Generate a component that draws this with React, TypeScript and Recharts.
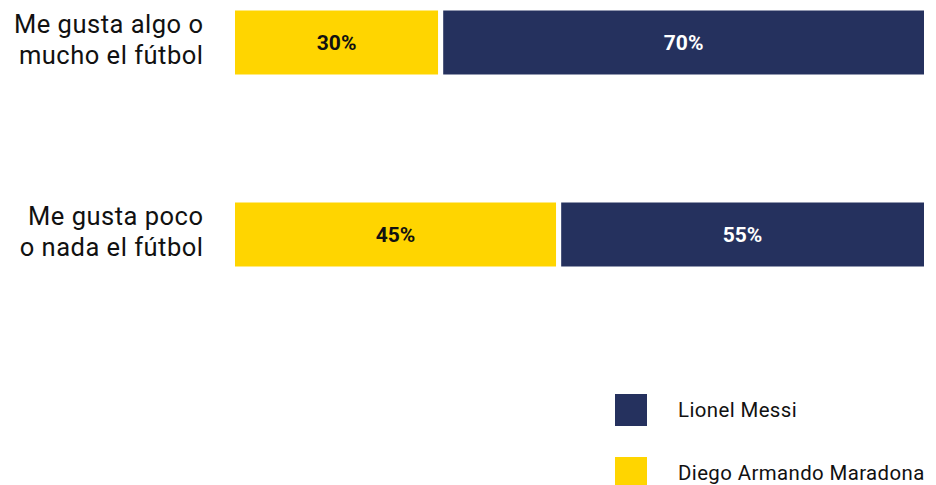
import { Bar, BarChart, LabelList, XAxis, YAxis } from "recharts";

const categories = ["Me gusta algo o mucho el fútbol", "Me gusta poco o nada el fútbol"];
const tickLines = [
  ["Me gusta algo o", "mucho el fútbol"],
  ["Me gusta poco", "o nada el fútbol"],
];
const maradona = [30, 47];
const messi = [70, 53];
const maradonaLabels = ["30%", "45%"];
const messiLabels = ["70%", "55%"];

const YELLOW = "#FFD500";
const NAVY = "#25315E";
const FONT = "Roboto, 'Noto Sans', sans-serif";

const legendItems = [
  { name: "Lionel Messi", color: NAVY },
  { name: "Diego Armando Maradona", color: YELLOW },
];

const data = categories.map((name, i) => ({
  name,
  maradona: maradona[i],
  messi: messi[i],
}));

function CategoryTick(props: any) {
  const { x, y, index } = props;
  const lines = tickLines[index] || [];
  const tx = x - 21;
  return (
    <text
      x={tx}
      y={y - 9}
      textAnchor="end"
      fontFamily={FONT}
      fontSize={25.5}
      letterSpacing={0.5}
      fill="#111"
    >
      {lines.map((line, i) => (
        <tspan key={i} x={tx} dy={i === 0 ? 0 : 31}>
          {line}
        </tspan>
      ))}
    </text>
  );
}

function makeLabel(labels: string[], color: string) {
  return (props: any) => {
    const { x, y, width, height, index } = props;
    return (
      <text
        x={x + width / 2}
        y={y + height / 2}
        textAnchor="middle"
        dominantBaseline="central"
        fontFamily={FONT}
        fontWeight={700}
        fontSize={21}
        fill={color}
      >
        {labels[index]}
      </text>
    );
  };
}

function LegendBox() {
  return (
    <div
      style={{
        position: "absolute",
        left: 615,
        top: 394,
        fontFamily: FONT,
      }}
    >
      {legendItems.map((item, i) => (
        <div
          key={item.name}
          style={{
            display: "flex",
            alignItems: "center",
            height: 32,
            marginBottom: i === 0 ? 31 : 0,
          }}
        >
          <span
            style={{
              width: 32,
              height: 32,
              background: item.color,
              display: "inline-block",
              marginRight: 31,
              flexShrink: 0,
            }}
          />
          <span
            style={{
              fontSize: 20.4,
              letterSpacing: 0.4,
              color: "#111",
              whiteSpace: "nowrap",
            }}
          >
            {item.name}
          </span>
        </div>
      ))}
    </div>
  );
}

export default function App() {
  return (
    <div
      style={{
        position: "absolute",
        left: 0,
        top: 0,
        width: 936,
        height: 485,
        overflow: "hidden",
        background: "#fff",
      }}
    >
      <div style={{ marginTop: -54 }}>
        <BarChart
          width={936}
          height={539}
          data={data}
          layout="vertical"
          margin={{ top: 0, right: 9.5, bottom: 155, left: 0 }}
          barSize={69}
        >
          <XAxis type="number" domain={[0, 100]} hide />
          <YAxis
            type="category"
            dataKey="name"
            width={232.5}
            axisLine={false}
            tickLine={false}
            tick={<CategoryTick />}
          />
          <Bar
            dataKey="maradona"
            stackId="a"
            fill={YELLOW}
            stroke="#fff"
            strokeWidth={5}
            isAnimationActive={false}
          >
            <LabelList content={makeLabel(maradonaLabels, "#111")} />
          </Bar>
          <Bar
            dataKey="messi"
            stackId="a"
            fill={NAVY}
            stroke="#fff"
            strokeWidth={5}
            isAnimationActive={false}
          >
            <LabelList content={makeLabel(messiLabels, "#fff")} />
          </Bar>
        </BarChart>
      </div>
      <LegendBox />
    </div>
  );
}
